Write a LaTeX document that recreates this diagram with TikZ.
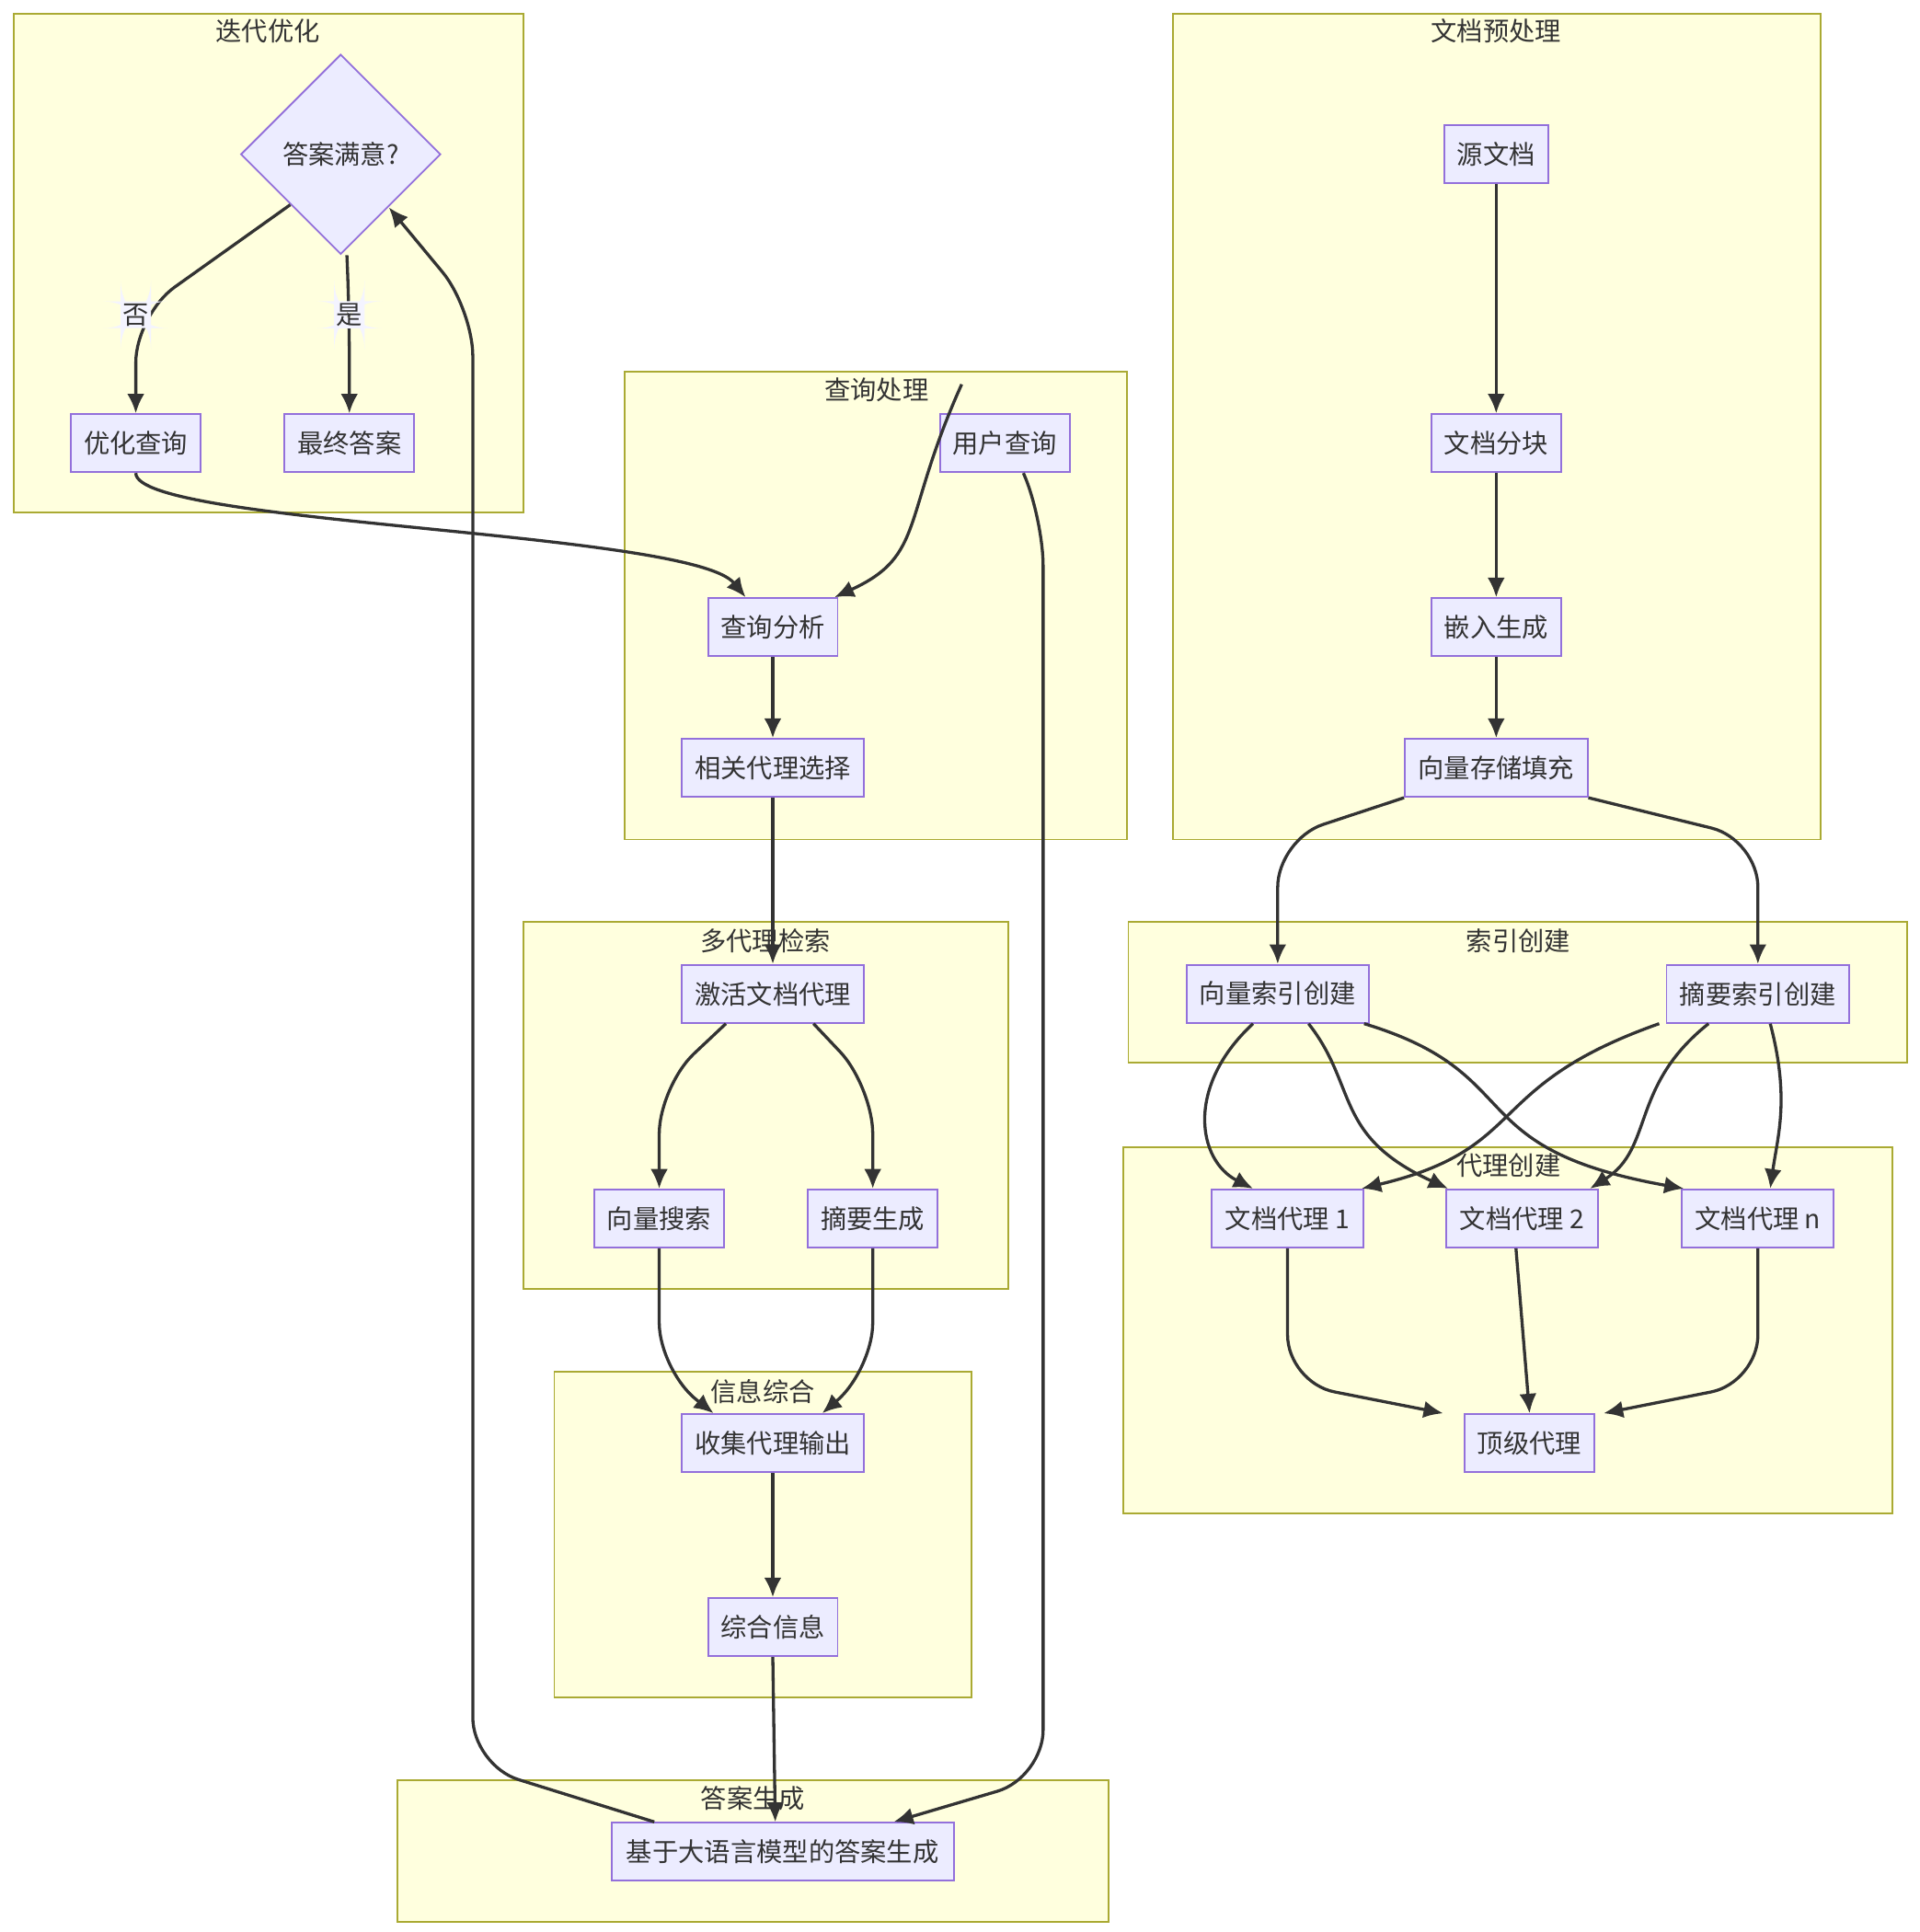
\documentclass[tikz,border=0pt]{standalone}
\usepackage{fontspec}
\setmainfont{Noto Sans CJK SC}
\usetikzlibrary{positioning,shapes.geometric,arrows.meta}
\definecolor{boxfill}{HTML}{ECECFF}
\definecolor{boxline}{HTML}{9370DB}
\definecolor{clfill}{HTML}{FFFFDE}
\definecolor{clline}{HTML}{AAAA33}
\definecolor{ink}{HTML}{333333}
\tikzset{
  box/.style={draw=boxline,fill=boxfill,line width=0.8pt,minimum height=0.94cm,inner sep=2pt,text=ink,font=\fontsize{12}{14}\selectfont},
  decision/.style={diamond,draw=boxline,fill=boxfill,line width=0.8pt,minimum width=3.24cm,minimum height=3.24cm,inner sep=0pt,aspect=1,text=ink,font=\fontsize{12}{14}\selectfont},
  cluster/.style={draw=clline,fill=clfill,line width=0.8pt},
  cltitle/.style={text=ink,font=\fontsize{12}{14}\selectfont},
  edge/.style={draw=ink,line width=1.4pt,-{Latex[length=9pt,width=8pt]},rounded corners=22pt},
  elabel/.style={fill=boxfill!60!white,inner sep=1pt,text=ink,font=\fontsize{12}{14}\selectfont},
}
\begin{document}
\begin{tikzpicture}[x=0.02cm,y=-0.02cm]
\useasboundingbox (0,0) rectangle (1555,1565);
%% clusters
\draw[cluster] (11,11) rectangle (424,415);
\node[cltitle] at (217,25) {迭代优化};
\draw[cluster] (950,11) rectangle (1475,680);
\node[cltitle] at (1212,25) {文档预处理};
\draw[cluster] (506,301) rectangle (913,680);
\node[cltitle] at (710,316) {查询处理};
\draw[cluster] (914,747) rectangle (1545,861);
\node[cltitle] at (1230,762) {索引创建};
\draw[cluster] (424,747) rectangle (817,1044);
\node[cltitle] at (620,762) {多代理检索};
\draw[cluster] (910,929) rectangle (1533,1226);
\node[cltitle] at (1222,944) {代理创建};
\draw[cluster] (449,1111) rectangle (787,1375);
\node[cltitle] at (618,1127) {信息综合};
\draw[cluster] (322,1442) rectangle (898,1557);
\node[cltitle] at (610,1457) {答案生成};
%% nodes
\node[decision] (myd) at (276,125) {答案满意?};
\node[box,minimum width=2.1cm] (yhcx) at (110,359) {优化查询};
\node[box,minimum width=2.1cm] (zzda) at (283,359) {最终答案};
\node[box,minimum width=2.1cm] (yhcq) at (814,359) {用户查询};
\node[box,minimum width=2.1cm] (cxfx) at (626,508) {查询分析};
\node[box,minimum width=2.96cm] (xgdl) at (626,622) {相关代理选择};
\node[box,minimum width=1.68cm] (ywd) at (1212,125) {源文档};
\node[box,minimum width=2.1cm] (wdfk) at (1212,359) {文档分块};
\node[box,minimum width=2.1cm] (qrsc) at (1212,508) {嵌入生成};
\node[box,minimum width=2.96cm] (xlcc) at (1212,622) {向量存储填充};
\node[box,minimum width=2.96cm] (xlsy) at (1035,805) {向量索引创建};
\node[box,minimum width=2.96cm] (zysy) at (1424,805) {摘要索引创建};
\node[box,minimum width=2.96cm] (jhdl) at (626,805) {激活文档代理};
\node[box,minimum width=2.1cm] (xlss) at (534,987) {向量搜索};
\node[box,minimum width=2.1cm] (zysc) at (707,987) {摘要生成};
\node[box,minimum width=2.46cm] (dl1) at (1043,987) {文档代理 1};
\node[box,minimum width=2.46cm] (dl2) at (1233,987) {文档代理 2};
\node[box,minimum width=2.46cm] (dln) at (1424,987) {文档代理 n};
\node[box,minimum width=2.1cm] (djdl) at (1239,1169) {顶级代理};
\node[box,minimum width=2.96cm] (sjsc) at (626,1169) {收集代理输出};
\node[box,minimum width=2.1cm] (zhxx) at (626,1318) {综合信息};
\node[box,minimum width=5.54cm] (dasc) at (634,1500) {基于大语言模型的答案生成};
%% edges
\draw[edge] (myd.south west) -- (110,255) node[elabel,pos=1] {否} -- (yhcx.north);
\draw[edge] ([xshift=0.1cm]myd.south) -- (283,255) node[elabel,pos=1] {是} -- (zzda.north);
\draw[edge] (yhcx.south) .. controls (110,425) and (560,430) .. ([xshift=-0.44cm]cxfx.north);
\draw[edge] ([xshift=-0.7cm]yhcq.north-|yhcq.south) ++(0,0.47cm) .. controls (730,420) and (750,450) .. ([xshift=1cm]cxfx.north);
\draw[edge] ([xshift=0.3cm]yhcq.south) -- (845,420) -- (845,1440) -- ([xshift=1.8cm]dasc.north);
\draw[edge] (cxfx) -- (xgdl);
\draw[edge] (xgdl) -- (jhdl);
\draw[edge] ([xshift=-0.76cm]jhdl.south) -- (534,880) -- (xlss.north);
\draw[edge] ([xshift=0.66cm]jhdl.south) -- (707,880) -- (zysc.north);
\draw[edge] (xlss.south) -- (534,1110) -- ([xshift=-0.96cm]sjsc.north);
\draw[edge] (zysc.south) -- (707,1110) -- ([xshift=0.8cm]sjsc.north);
\draw[edge] (sjsc) -- (zhxx);
\draw[edge] (zhxx.south) -- ([xshift=-0.12cm]dasc.north);
\draw[edge] ([xshift=-2.08cm]dasc.north) -- (383,1430) -- (383,250) -- (315,168);
\draw[edge] (ywd) -- (wdfk);
\draw[edge] (wdfk) -- (qrsc);
\draw[edge] (qrsc) -- (xlcc);
\draw[edge] (xlcc.south west) -- (1035,680) -- (xlsy.north);
\draw[edge] (xlcc.south east) -- (1424,680) -- (zysy.north);
\draw[edge] ([xshift=-0.4cm]xlsy.south) .. controls (960,880) and (970,940) .. ([xshift=-0.56cm]dl1.north);
\draw[edge] ([xshift=0.5cm]xlsy.south) .. controls (1100,880) and (1080,920) .. ([xshift=-1.2cm]dl2.north);
\draw[edge] ([xshift=1.4cm]xlsy.south) .. controls (1240,870) and (1180,930) .. ([xshift=-1.2cm]dln.north);
\draw[edge] ([xshift=-1.6cm]zysy.south) .. controls (1200,880) and (1240,930) .. ([xshift=1.2cm]dl1.north);
\draw[edge] ([xshift=-0.8cm]zysy.south) .. controls (1320,880) and (1340,930) .. ([xshift=1.1cm]dl2.north);
\draw[edge] ([xshift=0.2cm]zysy.south) .. controls (1450,890) and (1440,920) .. ([xshift=0.2cm]dln.north);
\draw[edge] (dl1.south) -- (1043,1120) -- ([xshift=-1.4cm]djdl.north);
\draw[edge] ([xshift=-0.1cm]dl2.south) -- (djdl.north);
\draw[edge] (dln.south) -- (1424,1120) -- ([xshift=1.2cm]djdl.north);
\end{tikzpicture}
\end{document}
